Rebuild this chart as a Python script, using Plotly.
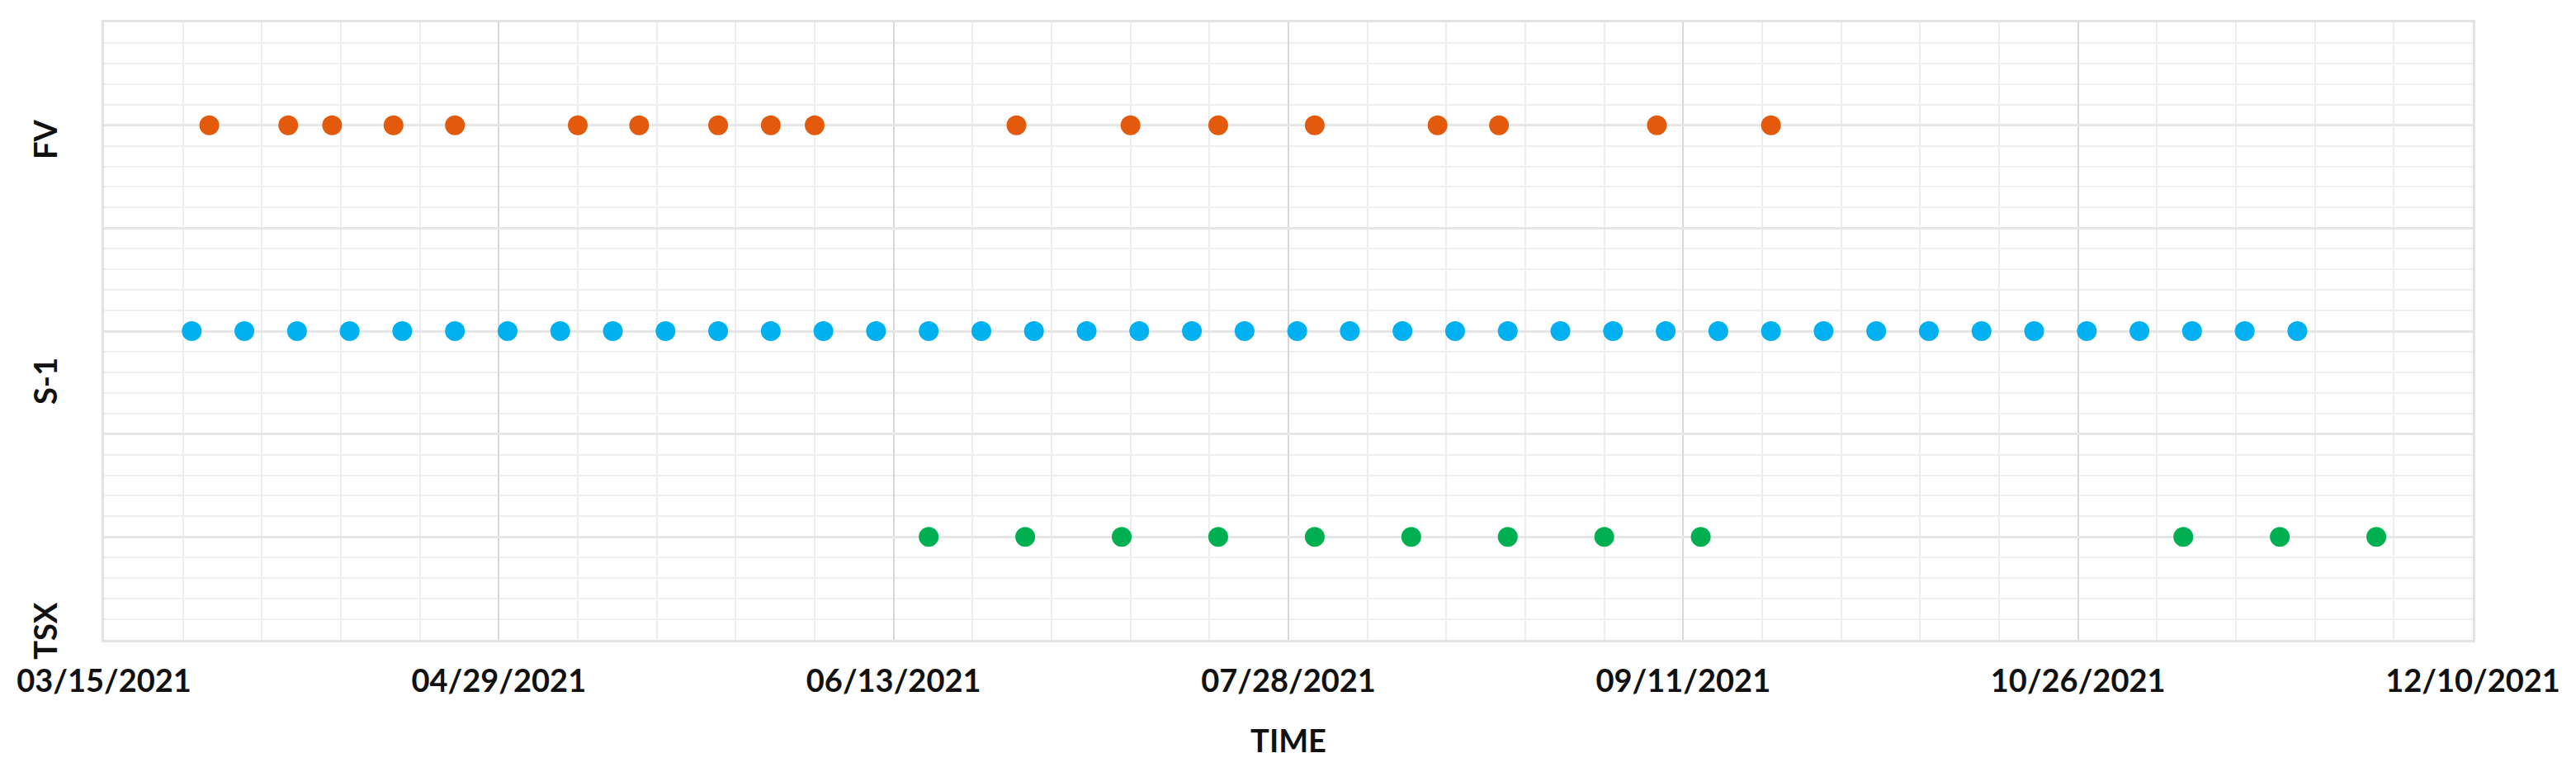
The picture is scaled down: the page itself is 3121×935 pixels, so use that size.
import plotly.graph_objects as go

# Row labels / categories and their y-levels
categories = ["FV", "S-1", "TSX"]
row_levels = [5, 3, 1]
label_levels = [4.86, 2.51, 0.09]
colors = ["#E35A0C", "#00B0F0", "#00B050"]

fv_dates = ["2021-03-27", "2021-04-05", "2021-04-10", "2021-04-17", "2021-04-24",
            "2021-05-08", "2021-05-15", "2021-05-24", "2021-05-30", "2021-06-04",
            "2021-06-27", "2021-07-10", "2021-07-20", "2021-07-31", "2021-08-14",
            "2021-08-21", "2021-09-08", "2021-09-21"]

s1_dates = ["2021-03-25", "2021-03-31", "2021-04-06", "2021-04-12", "2021-04-18",
            "2021-04-24", "2021-04-30", "2021-05-06", "2021-05-12", "2021-05-18",
            "2021-05-24", "2021-05-30", "2021-06-05", "2021-06-11", "2021-06-17",
            "2021-06-23", "2021-06-29", "2021-07-05", "2021-07-11", "2021-07-17",
            "2021-07-23", "2021-07-29", "2021-08-04", "2021-08-10", "2021-08-16",
            "2021-08-22", "2021-08-28", "2021-09-03", "2021-09-09", "2021-09-15",
            "2021-09-21", "2021-09-27", "2021-10-03", "2021-10-09", "2021-10-15",
            "2021-10-21", "2021-10-27", "2021-11-02", "2021-11-08", "2021-11-14",
            "2021-11-20"]

tsx_dates = ["2021-06-17", "2021-06-28", "2021-07-09", "2021-07-20", "2021-07-31",
             "2021-08-11", "2021-08-22", "2021-09-02", "2021-09-13", "2021-11-07",
             "2021-11-18", "2021-11-29"]

tick_vals = ["2021-03-15", "2021-04-29", "2021-06-13", "2021-07-28",
             "2021-09-11", "2021-10-26", "2021-12-10"]
tick_text = ["03/15/2021", "04/29/2021", "06/13/2021", "07/28/2021",
             "09/11/2021", "10/26/2021", "12/10/2021"]

series = [fv_dates, s1_dates, tsx_dates]

FONT = "Lato"

fig = go.Figure()
for name, dates, lvl, col in zip(categories, series, row_levels, colors):
    fig.add_trace(go.Scatter(
        x=dates, y=[lvl] * len(dates), mode="markers", name=name,
        marker=dict(color=col, size=24, line=dict(width=0)),
        showlegend=False,
    ))

for name, lvl in zip(categories, label_levels):
    fig.add_annotation(
        text=name, x=0, xref="paper", y=lvl, yref="y",
        xanchor="center", yanchor="middle", xshift=-72, textangle=-90,
        showarrow=False,
        font=dict(family=FONT, size=38, color="#111111", weight="bold"),
    )

fig.update_layout(
    width=3121, height=935,
    margin=dict(l=115, r=133, t=19, b=168),
    paper_bgcolor="white", plot_bgcolor="white",
    font=dict(family=FONT, color="#111111"),
)

fig.update_xaxes(
    type="date",
    range=["2021-03-15", "2021-12-10"],
    tickvals=tick_vals, ticktext=tick_text,
    tickfont=dict(family=FONT, size=38, color="#111111", weight="bold"),
    ticks="", ticklen=0, ticklabelstandoff=14,
    showgrid=True, gridcolor="#D9D9D9", gridwidth=2,
    minor=dict(dtick=9 * 86400000, tick0="2021-03-15", showgrid=True,
               gridcolor="#EDEDED", gridwidth=2),
    showline=True, linecolor="#E3E3E3", linewidth=3, mirror=True,
    zeroline=False,
    title=dict(text="TIME", font=dict(family=FONT, size=38, color="#111111", weight="bold"),
               standoff=40),
)

fig.update_yaxes(
    range=[0, 6], dtick=1, tick0=0,
    showticklabels=False, ticks="",
    showgrid=True, gridcolor="#E6E6E6", gridwidth=3,
    minor=dict(dtick=0.2, showgrid=True, gridcolor="#EFEFEF", gridwidth=2),
    showline=True, linecolor="#E3E3E3", linewidth=3, mirror=True,
    zeroline=False,
)

fig.write_html("out.html")
